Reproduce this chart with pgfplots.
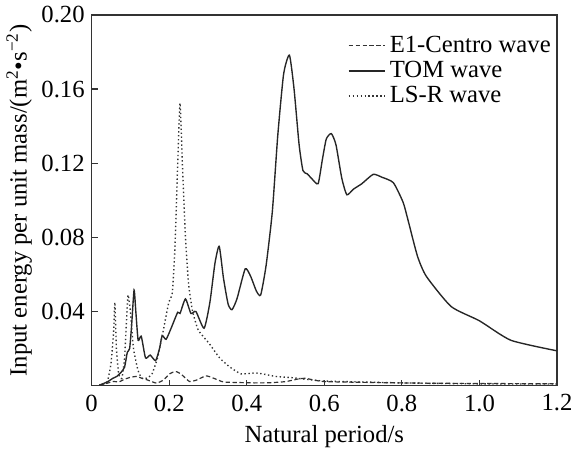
\documentclass[border=0pt]{standalone}
\usepackage{fontspec}
\setmainfont{Liberation Serif}
\usepackage{pgfplots}
\pgfplotsset{compat=1.18}

\begin{document}
\begin{tikzpicture}
\begin{axis}[
    scale only axis,
    width=236pt, height=188pt,
    xmin=0, xmax=1.2, ymin=0, ymax=0.2,
    xtick={0,0.2,0.4,0.6,0.8,1.0,1.2},
    xticklabels={0,0.2,0.4,0.6,0.8,1.0,1.2},
    ytick={0.04,0.08,0.12,0.16,0.20},
    yticklabels={0.04,0.08,0.12,0.16,0.20},
    tick align=inside,
    xtick pos=bottom, ytick pos=left,
    major tick length=3pt,
    axis line style={line width=0.7pt, black!80},
    tick style={line width=0.6pt, black!80},
    ticklabel style={font=\fontsize{12.5}{14}\selectfont},
    xticklabel style={yshift=-1pt},
    label style={font=\fontsize{12.5}{14}\selectfont},
    xlabel={Natural period/s},
    ylabel={Input energy per unit mass/(m\textsuperscript{2}•s\textsuperscript{\textminus2})},
    xlabel style={yshift=0pt},
    ylabel style={yshift=-2pt},
    legend style={draw=none, fill=none, at={(1.0,0.96)}, anchor=north east,
                  font=\fontsize{12.5}{13}\selectfont, row sep=-1pt,
                  inner sep=1pt},
    legend cell align=left,
    legend image code/.code={\draw[#1] (0cm,0cm) -- (0.65cm,0cm);},
]
% E1-Centro wave
\addplot[black!80, line width=0.6pt, dash pattern=on 2.2pt off 1.3pt, smooth, tension=0.3] coordinates {
(0.02,0.0004) (0.035,0.001) (0.056,0.0023) (0.07,0.002) (0.085,0.0035)
(0.1,0.0045) (0.115,0.005) (0.13,0.004) (0.145,0.003) (0.167,0.0014)
(0.185,0.003) (0.2,0.0062) (0.21,0.0073) (0.22,0.0075) (0.232,0.006)
(0.252,0.0023) (0.27,0.003) (0.295,0.0053) (0.315,0.004) (0.34,0.002)
(0.38,0.0017) (0.42,0.0015) (0.46,0.0016) (0.5,0.0022) (0.53,0.0035)
(0.55,0.004) (0.57,0.0032) (0.6,0.0022) (0.7,0.0018) (0.8,0.0015)
(0.9,0.0013) (1.0,0.0012) (1.1,0.0011) (1.2,0.001)
};
% TOM wave
\addplot[black!85, line width=0.7pt, smooth, tension=0.35] coordinates {
(0.02,0.0003) (0.04,0.002) (0.055,0.004) (0.065,0.005) (0.075,0.007)
(0.085,0.01) (0.092,0.018) (0.098,0.02) (0.103,0.032) (0.1095,0.0516)
(0.114,0.04) (0.12,0.0245) (0.128,0.0267) (0.139,0.015) (0.151,0.0165)
(0.165,0.0135) (0.175,0.02) (0.182,0.027) (0.192,0.025) (0.205,0.031)
(0.222,0.0396) (0.228,0.039) (0.242,0.0468) (0.256,0.039) (0.269,0.040)
(0.29,0.031) (0.305,0.045) (0.318,0.066) (0.329,0.0752) (0.34,0.058)
(0.352,0.044) (0.362,0.041) (0.375,0.047) (0.396,0.063) (0.41,0.059)
(0.425,0.051) (0.436,0.049) (0.45,0.065) (0.466,0.094) (0.48,0.135)
(0.495,0.168) (0.51,0.1783) (0.522,0.16) (0.535,0.13) (0.545,0.116)
(0.556,0.1143) (0.568,0.1116) (0.584,0.109) (0.595,0.122) (0.605,0.133)
(0.618,0.136) (0.63,0.13) (0.645,0.112) (0.658,0.103) (0.675,0.106)
(0.697,0.109) (0.726,0.114) (0.748,0.1125) (0.778,0.1095) (0.803,0.099)
(0.815,0.090) (0.84,0.07) (0.863,0.059) (0.927,0.0427) (1.0,0.035)
(1.081,0.0245) (1.2,0.0188)
};
% LS-R wave
\addplot[black!80, line width=0.7pt, dash pattern=on 0.7pt off 1.3pt, smooth, tension=0.3] coordinates {
(0.02,0.0003) (0.04,0.002) (0.05,0.012) (0.057,0.03) (0.06,0.045)
(0.064,0.02) (0.07,0.006) (0.078,0.004) (0.085,0.015) (0.09,0.035)
(0.094,0.049) (0.1,0.04) (0.108,0.02) (0.12,0.008) (0.13,0.004)
(0.141,0.004) (0.155,0.006) (0.17,0.015) (0.185,0.03) (0.199,0.045)
(0.208,0.05) (0.215,0.075) (0.222,0.12) (0.228,0.1525) (0.234,0.12)
(0.242,0.08) (0.25,0.055) (0.26,0.0405) (0.275,0.03) (0.303,0.0228)
(0.33,0.015) (0.355,0.0103) (0.385,0.0064) (0.423,0.0069) (0.45,0.006)
(0.474,0.005) (0.517,0.0043) (0.55,0.0035) (0.6,0.0025) (0.7,0.002)
(0.8,0.0015) (0.9,0.0012) (1.0,0.001) (1.1,0.0009) (1.2,0.0009)
};
\legend{E1-Centro wave, TOM wave, LS-R wave}
\end{axis}
\end{tikzpicture}
\end{document}
